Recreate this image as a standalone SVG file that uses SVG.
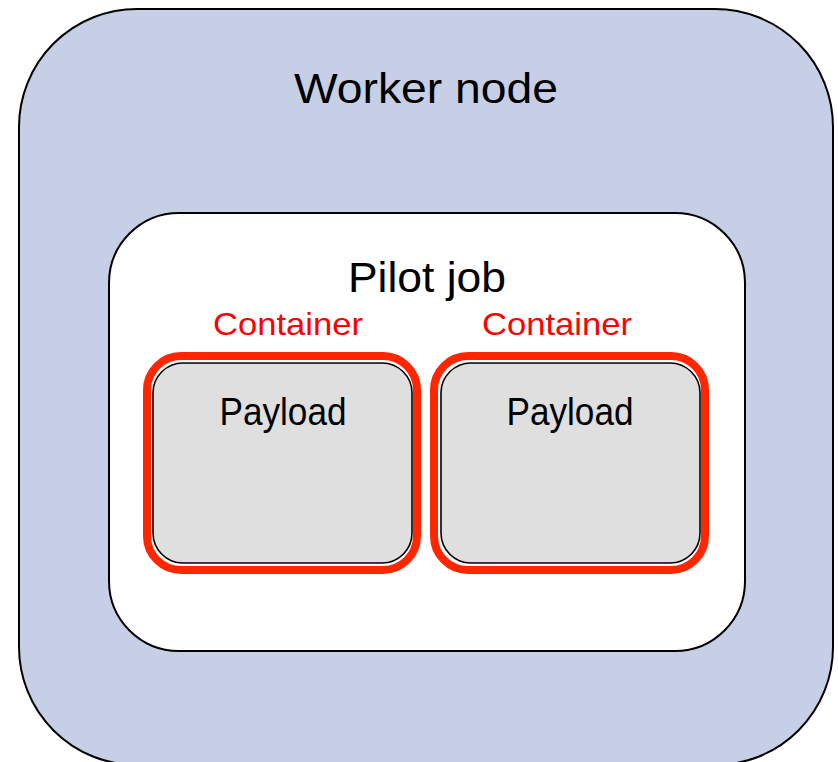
<svg xmlns="http://www.w3.org/2000/svg" width="838" height="762" viewBox="0 0 838 762">
  <style>
    .lbl { font-family: "Liberation Sans", Arial, sans-serif; text-anchor: middle; }
    .big { font-size: 43px; fill: #000; }
    .ctn { font-size: 32px; fill: #ff0000; }
    .pay { font-size: 38px; fill: #000; }
    .frame { stroke: #000; stroke-width: 2; }
    .ctnbox { fill: none; stroke: #ff2600; stroke-width: 8; }
    .paybox { fill: #dfdfdf; stroke: #000; stroke-width: 1.6; }
  </style>

  <g id="worker-node">
    <rect class="frame" x="19" y="9" width="814" height="756" rx="118" ry="118" fill="#c7cfe6"/>
    <text class="lbl big" x="426" y="103" textLength="264" lengthAdjust="spacingAndGlyphs">Worker node</text>
  </g>

  <g id="pilot-job">
    <rect class="frame" x="109" y="213" width="636" height="438" rx="70" ry="70" fill="#ffffff"/>
    <text class="lbl big" x="427" y="292" textLength="158" lengthAdjust="spacingAndGlyphs">Pilot job</text>
  </g>

  <g id="container-1">
    <text class="lbl ctn" x="288" y="335" textLength="150" lengthAdjust="spacingAndGlyphs">Container</text>
    <rect class="ctnbox" x="147" y="356" width="270" height="214" rx="34" ry="34"/>
    <g id="payload-1">
      <rect class="paybox" x="153" y="363" width="259" height="200" rx="30" ry="30"/>
      <text class="lbl pay" x="283" y="425" textLength="127" lengthAdjust="spacingAndGlyphs">Payload</text>
    </g>
  </g>

  <g id="container-2">
    <text class="lbl ctn" x="557" y="335" textLength="150" lengthAdjust="spacingAndGlyphs">Container</text>
    <rect class="ctnbox" x="434" y="356" width="271" height="214" rx="34" ry="34"/>
    <g id="payload-2">
      <rect class="paybox" x="441" y="363" width="259" height="200" rx="30" ry="30"/>
      <text class="lbl pay" x="570" y="425" textLength="127" lengthAdjust="spacingAndGlyphs">Payload</text>
    </g>
  </g>

  <g id="connectors"/>
</svg>
